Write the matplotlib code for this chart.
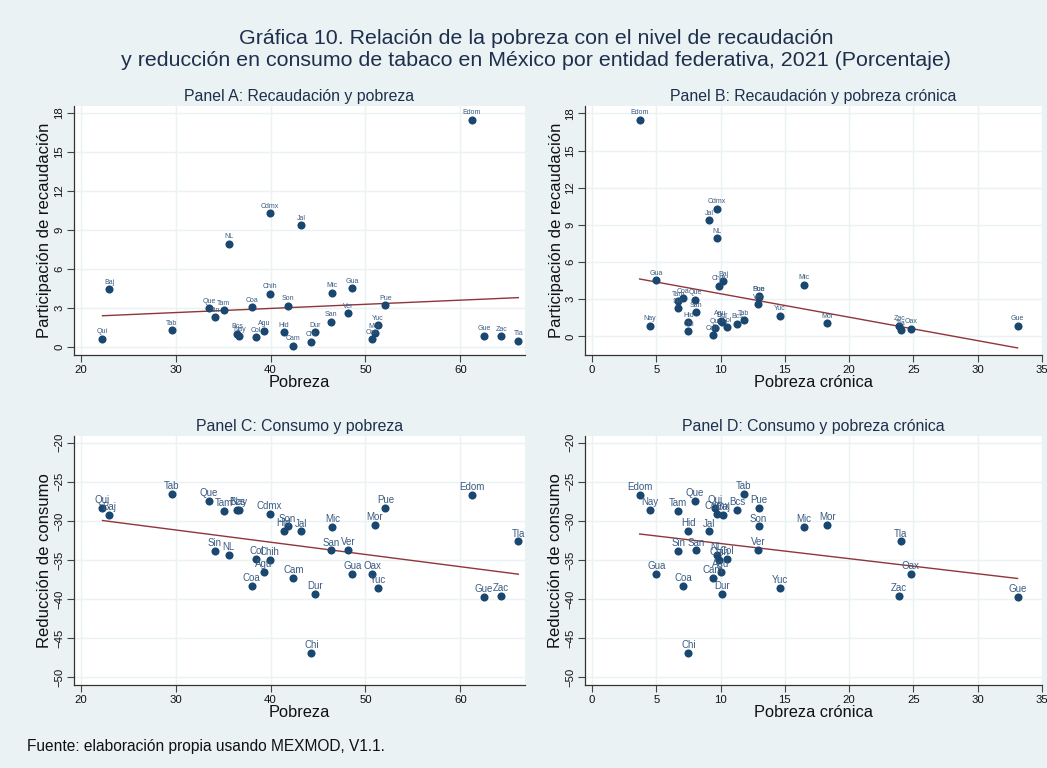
import numpy as np
import matplotlib
matplotlib.use("Agg")
import matplotlib.pyplot as plt

plt.rcParams['font.family'] = ['Liberation Sans', 'DejaVu Sans']

# Entidades federativas
estados = ["Edom", "Cdmx", "Jal", "NL", "Baj", "Chih", "Mic", "Gua", "Que", "Tam",
           "Sin", "Coa", "Son", "Pue", "Ver", "San", "Tab", "Qui", "Bcs", "Nay",
           "Col", "Agu", "Hid", "Cam", "Chi", "Dur", "Yuc", "Mor", "Oax", "Gue",
           "Zac", "Tla"]

# Pobreza (%)
pobreza = [61.2, 39.9, 43.2, 35.6, 23.0, 39.9, 46.5, 48.6, 33.5, 35.1,
           34.1, 38.0, 41.8, 52.1, 48.2, 46.4, 29.6, 22.3, 36.5, 36.7,
           38.5, 39.3, 41.4, 42.4, 44.3, 44.7, 51.3, 51.0, 50.7, 62.5,
           64.3, 66.1]

# Pobreza crónica (%)
pobreza_cronica = [3.7, 9.7, 9.1, 9.7, 10.2, 9.9, 16.5, 5.0, 8.0, 6.7,
                   6.7, 7.1, 12.95, 13.0, 12.9, 8.1, 11.8, 9.6, 11.3, 4.5,
                   10.5, 10.0, 7.5, 9.4, 7.5, 10.1, 14.6, 18.3, 24.8, 33.1,
                   23.9, 24.0]

# Participación de recaudación (%)
recaudacion = [17.5, 10.3, 9.36, 7.94, 4.47, 4.11, 4.19, 4.52, 2.98, 2.83,
               2.29, 3.08, 3.19, 3.24, 2.60, 1.95, 1.29, 0.64, 1.03, 0.85,
               0.75, 1.26, 1.16, 0.10, 0.41, 1.16, 1.67, 1.08, 0.62, 0.87,
               0.85, 0.51]

# Reducción de consumo (%)
consumo = [-26.66, -29.09, -31.35, -34.34, -29.22, -35.02, -30.80, -36.82, -27.47, -28.75,
           -33.83, -38.27, -30.71, -28.32, -33.70, -33.79, -26.53, -28.32, -28.62, -28.62,
           -34.90, -36.52, -31.31, -37.33, -46.89, -39.38, -38.57, -30.50, -36.77, -39.76,
           -39.59, -32.63]

titulo_1 = "Gráfica 10. Relación de la pobreza con el nivel de recaudación"
titulo_2 = "y reducción en consumo de tabaco en México por entidad federativa, 2021 (Porcentaje)"
nota = "Fuente: elaboración propia usando MEXMOD, V1.1."

BG = "#eaf2f3"
NAVY = "#1a476f"
LABEL = "#3a5b82"
FIT = "#90353b"
TXT = "#1e2f4d"

W, H = 1047, 768
fig = plt.figure(figsize=(W / 100, H / 100), dpi=100, facecolor=BG)


def px_axes(left, top, right, bottom):
    return fig.add_axes([left / W, 1 - bottom / H, (right - left) / W, (bottom - top) / H])


paneles = [
    dict(box=(74, 106, 525, 355), x=pobreza, y=recaudacion, xlim=(19.3, 66.8), ylim=(-0.6, 18.54),
         xt=[20, 30, 40, 50, 60], yt=[0, 3, 6, 9, 12, 15, 18], title="Panel A: Recaudación y pobreza",
         xlabel="Pobreza", ylabel="Participación de recaudación", lab=5.0, off=5.0),
    dict(box=(585, 106, 1042, 355), x=pobreza_cronica, y=recaudacion, xlim=(-0.55, 35), ylim=(-1.5, 18.6),
         xt=[0, 5, 10, 15, 20, 25, 30, 35], yt=[0, 3, 6, 9, 12, 15, 18],
         title="Panel B: Recaudación y pobreza crónica",
         xlabel="Pobreza crónica", ylabel="Participación de recaudación", lab=5.0, off=5.0),
    dict(box=(74, 436, 525, 685), x=pobreza, y=consumo, xlim=(19.3, 66.8), ylim=(-51.0, -19.14),
         xt=[20, 30, 40, 50, 60], yt=[-20, -25, -30, -35, -40, -45, -50],
         title="Panel C: Consumo y pobreza",
         xlabel="Pobreza", ylabel="Reducción de consumo", lab=7.0, off=5.6),
    dict(box=(585, 436, 1042, 685), x=pobreza_cronica, y=consumo, xlim=(-0.55, 35), ylim=(-51.0, -19.14),
         xt=[0, 5, 10, 15, 20, 25, 30, 35], yt=[-20, -25, -30, -35, -40, -45, -50],
         title="Panel D: Consumo y pobreza crónica",
         xlabel="Pobreza crónica", ylabel="Reducción de consumo", lab=7.0, off=5.6),
]

for p in paneles:
    left, top, right, bottom = p["box"]
    wpx, hpx = right - left, bottom - top
    ax = px_axes(*p["box"])
    ax.set_facecolor("white")
    x = np.asarray(p["x"], dtype=float)
    y = np.asarray(p["y"], dtype=float)

    ax.set_xlim(*p["xlim"])
    ax.set_ylim(*p["ylim"])
    ax.set_xticks(p["xt"])
    ax.set_yticks(p["yt"])
    ax.grid(True, color=BG, linewidth=1.0)
    ax.set_axisbelow(True)

    ax.scatter(x, y, s=34, color=NAVY, zorder=3, linewidths=0)
    for name, xi, yi in zip(estados, x, y):
        ax.annotate(name, (xi, yi), xytext=(0, p["off"]), textcoords="offset points",
                    ha="center", va="center", fontsize=p["lab"], color=LABEL, zorder=4)

    # Recta de ajuste lineal
    b, a = np.polyfit(x, y, 1)
    xs = np.array([x.min(), x.max()])
    ax.plot(xs, a + b * xs, color=FIT, linewidth=1.0, zorder=2)

    for s in ("top", "right"):
        ax.spines[s].set_visible(False)
    for s in ("left", "bottom"):
        ax.spines[s].set_color("#333333")
        ax.spines[s].set_linewidth(0.9)
    ax.tick_params(axis="both", length=5, width=0.8, color="#444444", labelsize=8.2,
                   labelcolor="#111111", pad=2.5)
    ax.tick_params(axis="y", labelrotation=90, pad=2)
    for lbl in ax.get_yticklabels():
        lbl.set_va("center")

    ax.text(0.5, 1 + 10 / hpx, p["title"], transform=ax.transAxes, ha="center", va="center",
            fontsize=11.4, color=TXT)
    ax.set_xlabel(p["xlabel"], fontsize=11.8, color="#111111", va="center")
    ax.xaxis.set_label_coords(0.5, -27.5 / hpx)
    ax.set_ylabel(p["ylabel"], fontsize=12, color="#111111", va="center")
    ax.yaxis.set_label_coords(-29 / wpx, 0.5)

fig.text(536 / W, 1 - 38 / H, titulo_1, ha="center", va="center", fontsize=15.4, color=TXT)
fig.text(536 / W, 1 - 60 / H, titulo_2, ha="center", va="center", fontsize=15.4, color=TXT)
fig.text(27 / W, 1 - 747 / H, nota, ha="left", va="center", fontsize=11.2, color="#111111")

fig.savefig("out.png", dpi=100, facecolor=BG)
